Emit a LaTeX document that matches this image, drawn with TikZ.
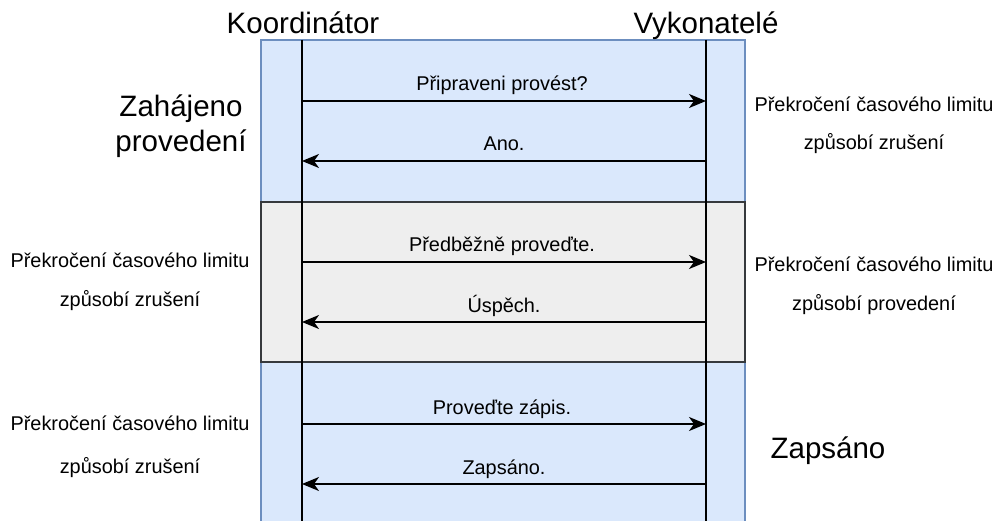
\documentclass[tikz,border=0pt]{standalone}
\usepackage{fontspec}
\setmainfont{Liberation Sans}
\usetikzlibrary{arrows.meta}
\definecolor{phaseblue}{HTML}{DAE8FC}
\definecolor{phaseblueline}{HTML}{6C8EBF}
\definecolor{phasegray}{HTML}{EEEEEE}
\definecolor{phasegrayline}{HTML}{36393D}
\tikzset{
  bluephase/.style={fill=phaseblue, draw=phaseblueline, line width=1.5pt},
  grayphase/.style={fill=phasegray, draw=phasegrayline, line width=1.5pt},
  lifeline/.style={line width=2pt, draw=black},
  msg/.style={line width=2pt, draw=black, -{Stealth[length=17pt,width=14pt,inset=5pt]}},
  small/.style={font=\fontsize{19.9}{24}\selectfont, anchor=base, inner sep=0pt},
  big/.style={font=\fontsize{29.5}{35}\selectfont, anchor=base, inner sep=0pt},
}
\begin{document}
\begin{tikzpicture}[x=1pt, y=-1pt]
  \useasboundingbox (0,0) rectangle (998,521);
  \clip (0,0) rectangle (998,521);

  % phases
  \draw[bluephase] (261,40) rectangle (745,202);
  \draw[bluephase] (261,362) rectangle (745,540);
  \draw[grayphase] (261,202) rectangle (745,362);

  % lifelines
  \coordinate (ktop) at (302,40);
  \coordinate (kbot) at (302,540);
  \coordinate (vtop) at (706,40);
  \coordinate (vbot) at (706,540);
  \draw[lifeline] (ktop) -- (kbot);
  \draw[lifeline] (vtop) -- (vbot);

  % message anchors on both lifelines
  \foreach \i/\y in {1/101, 2/161, 3/262, 4/322, 5/424, 6/484} {
    \coordinate (k\i) at (302,\y);
    \coordinate (v\i) at (706,\y);
  }

  % messages
  \draw[msg] (k1) -- (v1);
  \draw[msg] (v2) -- (k2);
  \draw[msg] (k3) -- (v3);
  \draw[msg] (v4) -- (k4);
  \draw[msg] (k5) -- (v5);
  \draw[msg] (v6) -- (k6);

  \node[small] (m1) at (502,91)  {Připraveni provést?};
  \node[small] (m2) at (504,151) {Ano.};
  \node[small] (m3) at (502,252) {Předběžně proveďte.};
  \node[small] (m4) at (504,312) {Úspěch.};
  \node[small] (m5) at (502,414) {Proveďte zápis.};
  \node[small] (m6) at (504,474) {Zapsáno.};

  % participants
  \node[big] (koord) at (303,34) {Koordinátor};
  \node[big] (vyk) at (706,34) {Vykonatelé};

  % phase annotations
  \node[big] (zah1) at (181,117) {Zahájeno};
  \node[big] (zah2) at (181,152) {provedení};
  \node[big] (zaps) at (828,458) {Zapsáno};

  \node[small] (rt1) at (874,112) {Překročení časového limitu};
  \node[small] (rt2) at (874,150) {způsobí zrušení};
  \node[small] (lm1) at (130,268) {Překročení časového limitu};
  \node[small] (lm2) at (130,306) {způsobí zrušení};
  \node[small] (rm1) at (874,272) {Překročení časového limitu};
  \node[small] (rm2) at (874,310) {způsobí provedení};
  \node[small] (lb1) at (130,430) {Překročení časového limitu};
  \node[small] (lb2) at (130,473) {způsobí zrušení};
\end{tikzpicture}
\end{document}
